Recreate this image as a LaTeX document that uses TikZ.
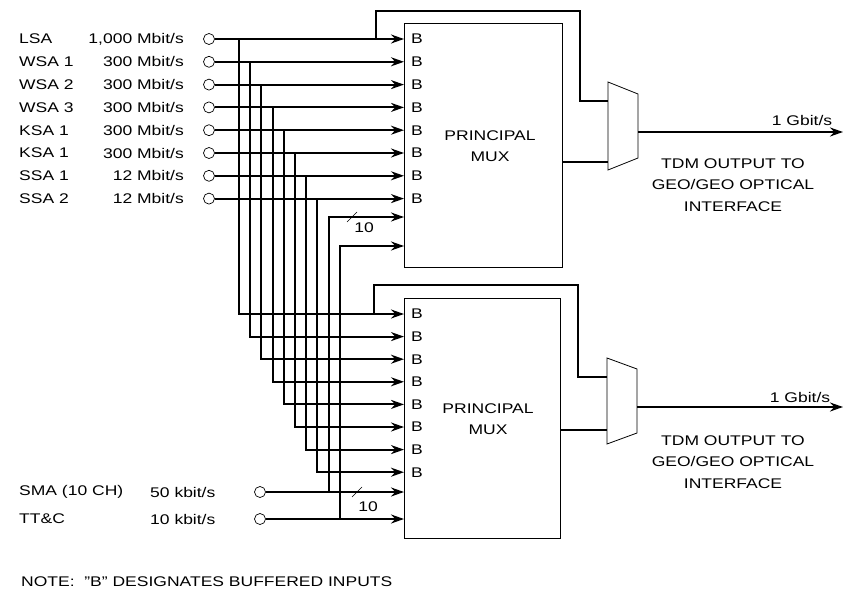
\documentclass[tikz,border=0pt]{standalone}
\usepackage{fontspec}
\setmainfont{Liberation Sans}[FakeStretch=1.25]
\usetikzlibrary{arrows.meta,positioning,calc}

\begin{document}
\begin{tikzpicture}[
  x=1pt, y=-1pt,
  font=\fontsize{14}{17}\selectfont,
  port/.style={draw, circle, minimum size=11pt, inner sep=0pt, fill=white, line width=0.7pt},
  muxbox/.style={draw, anchor=north west, line width=0.8pt, inner sep=0pt},
  wire/.style={line width=2pt},
  feed/.style={-{Stealth[length=13pt,width=9pt]}, line width=2pt},
  lbl/.style={inner sep=0pt},
  buf/.style={anchor=west, inner sep=0pt},
  stack/.style={align=center, font=\fontsize{14}{21.5}\selectfont}
]
\useasboundingbox (0,0) rectangle (851,607);

% Multiplexers
\node[muxbox, minimum width=158pt, minimum height=244pt] (mux1) at (404,23) {};
\node[muxbox, minimum width=156pt, minimum height=240pt] (mux2) at (404,298) {};
\node[stack] (mux1txt) at (490,146) {PRINCIPAL\\MUX};
\node[stack] (mux2txt) at (488,419) {PRINCIPAL\\MUX};

% Wideband inputs, tapped down to the second mux
\foreach \n/\r [count=\i from 0] in {LSA/{1,000 Mbit/s}, WSA 1/{300 Mbit/s},
    WSA 2/{300 Mbit/s}, WSA 3/{300 Mbit/s}, KSA 1/{300 Mbit/s}, KSA 1/{300 Mbit/s},
    SSA 1/{12 Mbit/s}, SSA 2/{12 Mbit/s}} {
  \pgfmathsetmacro\yu{39+22.8*\i}
  \pgfmathsetmacro\yl{314+22.6*\i}
  \pgfmathsetmacro\xt{239+11.2*\i}
  \node[lbl, anchor=west] (name\i) at (19,\yu) {\n};
  \node[lbl, anchor=east] (rate\i) at (184,\yu) {\r};
  \node[port] (in\i) at (209,\yu) {};
  \coordinate (tap\i) at (\xt,\yu);
  \coordinate (low\i) at (404,\yl);
  \draw[feed] (in\i) -- (in\i -| mux1.west);
  \draw[feed] (tap\i) |- (low\i);
  \node[buf] (bu\i) at (411,\yu) {B};
  \node[buf] (bl\i) at (411,\yl) {B};
}

% Narrowband inputs
\node[lbl, anchor=west] (smaname) at (19,492) {SMA (10 CH)};
\node[lbl, anchor=west] (smarate) at (150,492) {50 kbit/s};
\node[port] (sma) at (260,492) {};
\node[lbl, anchor=west] (ttcname) at (19,519) {TT\&C};
\node[lbl, anchor=west] (ttcrate) at (150,519) {10 kbit/s};
\node[port] (ttc) at (260,519) {};

\coordinate (smatap) at (328.6,492);
\coordinate (smatop) at (404,217);
\coordinate (ttctap) at (339.8,519);
\coordinate (ttctop) at (404,246);
\draw[feed] (sma) -- (sma -| mux2.west);
\draw[feed] (ttc) -- (ttc -| mux2.west);
\draw[feed] (smatap) |- (smatop);
\draw[feed] (ttctap) |- (ttctop);

\draw[line width=0.6pt] (347,222) -- (357,212);
\node[lbl] (ten1) at (364,228) {10};
\draw[line width=0.6pt] (352,497) -- (362,487);
\node[lbl] (ten2) at (368,507) {10};

% Output combiners
\coordinate (fb1) at (376,39);
\coordinate (s1a) at (608,101.5);
\coordinate (s1b) at (608,162);
\draw[wire] (fb1) |- (580,11) |- (s1a);
\draw[wire] (s1b -| mux1.east) -- (s1b);
\draw[line width=0.8pt] (608,82) -- (638,94) -- (638,158) -- (608,170) -- cycle;
\coordinate (o1) at (638,132);
\coordinate (e1) at (843,132);
\draw[feed] (o1) -- (e1);
\node[lbl] (gbit1) at (802,120) {1 Gbit/s};
\node[stack] (tdm1) at (733,185) {TDM OUTPUT TO\\GEO/GEO OPTICAL\\INTERFACE};

\coordinate (fb2) at (374,314);
\coordinate (s2a) at (607,377);
\coordinate (s2b) at (607,430);
\draw[wire] (fb2) |- (578,285) |- (s2a);
\draw[wire] (s2b -| mux2.east) -- (s2b);
\draw[line width=0.8pt] (607,358) -- (637,369) -- (637,433) -- (607,444) -- cycle;
\coordinate (o2) at (637,407);
\coordinate (e2) at (843,407);
\draw[feed] (o2) -- (e2);
\node[lbl] (gbit2) at (800,397) {1 Gbit/s};
\node[stack] (tdm2) at (733,462) {TDM OUTPUT TO\\GEO/GEO OPTICAL\\INTERFACE};

\node[lbl, anchor=west] (note) at (21,582) {NOTE:\ \ "B" DESIGNATES BUFFERED INPUTS};
\end{tikzpicture}
\end{document}
